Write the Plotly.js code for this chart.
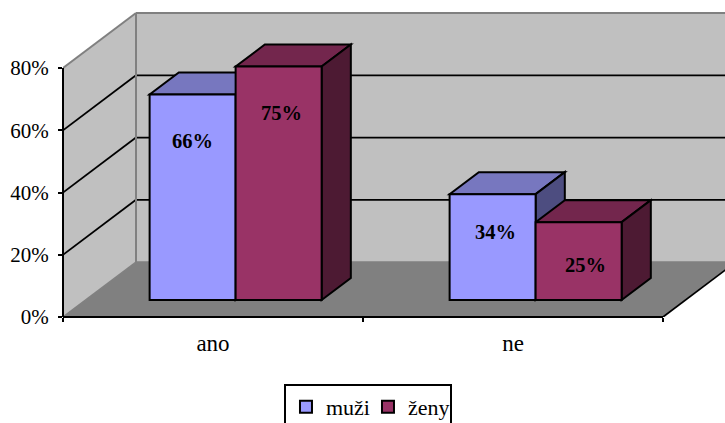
<!DOCTYPE html>
<html>
<head>
<meta charset="utf-8">
<script src="https://cdn.plot.ly/plotly-3.0.1.min.js"></script>
<style>html,body{margin:0;padding:0;background:#fff;overflow:hidden}</style>
</head>
<body>
<div id="chart" style="width:725px;height:423px"></div>
<script>
// Survey answers by gender, drawn as an oblique 3D column chart
const categories = ['ano', 'ne'];
const muzi = [66, 34];
const zeny = [75, 25];
const yTicks = [0, 20, 40, 60, 80];
const yTickLabels = ['0%', '20%', '40%', '60%', '80%'];

const FONT = '"Liberation Serif", "Times New Roman", serif';
const YMAX = 80;

// Oblique projection: one unit of depth moves this far along each axis
const DEPTH_X = 0.2433;
const DEPTH_Y = 17.67;
const project = (c, v, z) => [c + z * DEPTH_X, v + z * DEPTH_Y];

// Column placement inside the floor depth and inside a category slot
const Z_FRONT = 0.31;
const Z_BACK = 0.71;
const COL_W = 0.2867;

const poly = pts => 'M' + pts.map(p => p[0] + ',' + p[1]).join('L') + 'Z';
const fillShape = (pts, fill, line, width) => ({
  type: 'path', layer: 'below', xref: 'x', yref: 'y', path: poly(pts),
  fillcolor: fill, line: {color: line || fill, width: width === undefined ? 0 : width}
});
const lineShape = (a, b, color, width) => ({
  type: 'line', layer: 'below', xref: 'x', yref: 'y',
  x0: a[0], y0: a[1], x1: b[0], y1: b[1], line: {color: color, width: width}
});

const L = -0.5, R = 1.5;
const shapes = [];

// Side wall, back wall and floor
shapes.push(fillShape([project(L,0,0), project(L,0,1), project(L,YMAX,1), project(L,YMAX,0)], '#C0C0C0'));
shapes.push(fillShape([project(L,0,1), project(R,0,1), project(R,YMAX,1), project(L,YMAX,1)], '#C0C0C0'));
shapes.push(fillShape([project(L,0,0), project(R,0,0), project(R,0,1), project(L,0,1)], '#808080'));

// Gridlines running along both walls
yTicks.filter(v => v > 0 && v < YMAX).forEach(v => {
  shapes.push(lineShape(project(L,v,0), project(L,v,1), '#000', 1.75));
  shapes.push(lineShape(project(L,v,1), project(R,v,1), '#000', 1.75));
});

// Grey wall edges and the black right floor edge
const edge = '#808080';
shapes.push(lineShape(project(L,0,0), project(L,0,1), edge, 1.5));
shapes.push(lineShape(project(L,0,1), project(L,YMAX,1), edge, 2));
shapes.push(lineShape(project(L,YMAX,0), project(L,YMAX,1), edge, 2));
shapes.push(lineShape(project(L,YMAX,1), project(R,YMAX,1), edge, 2));
shapes.push(lineShape(project(L,0,1), project(R,0,1), edge, 1.5));
shapes.push(lineShape(project(R,0,0), project(R,0,1), '#000', 1.75));

// Top and side faces of a column; the front is the bar trace itself
function columnFaces(c, slot, v, topColor, sideColor) {
  const x0 = c + slot, x1 = c + slot + COL_W;
  shapes.push(fillShape([project(x0,v,Z_FRONT), project(x1,v,Z_FRONT), project(x1,v,Z_BACK), project(x0,v,Z_BACK)], topColor, '#000', 2));
  shapes.push(fillShape([project(x1,0,Z_FRONT), project(x1,0,Z_BACK), project(x1,v,Z_BACK), project(x1,v,Z_FRONT)], sideColor, '#000', 2));
}
categories.forEach((_, i) => columnFaces(i, -COL_W, muzi[i], '#7777BF', '#4D4D80'));
categories.forEach((_, i) => columnFaces(i, 0, zeny[i], '#73264D', '#4D1A33'));

// Axis lines stop at the chart's front plane
shapes.push({type:'line', layer:'above', xref:'x', yref:'paper', x0:L, x1:R, y0:0, y1:0, line:{color:'#000', width:2}});
shapes.push({type:'line', layer:'above', xref:'paper', yref:'y', x0:0, x1:0, y0:0, y1:YMAX, line:{color:'#000', width:2}});

const barTrace = (name, values, color, slot) => ({
  type: 'bar', name: name, x: categories, y: values,
  base: Z_FRONT * DEPTH_Y,
  width: COL_W,
  offset: slot + Z_FRONT * DEPTH_X,
  marker: {color: color, line: {color: '#000', width: 2}},
  hoverinfo: 'skip'
});

// Value labels sit on the front faces, below each column's top edge
const labelDrop = [[14.9, 14.9], [12.1, 13.7]];
const labelNudge = [[0, 0.01], [0.01, 0.022]];
const annotations = [];
categories.forEach((_, i) => {
  [[muzi, -COL_W], [zeny, 0]].forEach(([vals, slot], s) => {
    const p = project(i + slot + COL_W / 2, vals[i], Z_FRONT);
    annotations.push({
      xref: 'x', yref: 'y', x: p[0] + labelNudge[i][s], y: p[1] - labelDrop[i][s],
      text: '<b>' + vals[i] + '%</b>', showarrow: false,
      font: {family: FONT, size: 20.5, color: '#000'}
    });
  });
});

const layout = {
  width: 725, height: 423,
  margin: {l: 63, r: 0, t: 0, b: 106, pad: 0, autoexpand: false},
  paper_bgcolor: '#fff', plot_bgcolor: '#fff',
  barmode: 'overlay',
  font: {family: FONT, size: 21, color: '#000'},
  xaxis: {
    type: 'category', categoryorder: 'array', categoryarray: categories,
    range: [-0.5, 1.7067], autorange: false, tickson: 'boundaries',
    ticks: 'outside', ticklen: 4, tickwidth: 2, tickcolor: '#000',
    showgrid: false, zeroline: false, showline: false,
    ticklabelstandoff: 10, tickfont: {family: FONT, size: 23, color: '#000'}
  },
  yaxis: {
    range: [0, 101.85], autorange: false, tickmode: 'array',
    tickvals: yTicks, ticktext: yTickLabels,
    ticks: 'outside', ticklen: 4, tickwidth: 2, tickcolor: '#000',
    showgrid: false, zeroline: false, showline: false, ticklabelstandoff: 5,
    tickfont: {family: FONT, size: 21, color: '#000'}
  },
  legend: {
    orientation: 'h', x: 0.4607, xanchor: 'center', y: -0.2114, yanchor: 'top',
    bgcolor: '#fff', bordercolor: '#000', borderwidth: 2,
    entrywidthmode: 'pixels', entrywidth: 37,
    font: {family: FONT, size: 22, color: '#000'}
  },
  shapes: shapes,
  annotations: annotations
};

Plotly.newPlot('chart', [
  barTrace('muži', muzi, '#9999FF', -COL_W),
  barTrace('ženy', zeny, '#993366', 0)
], layout, {displayModeBar: false, staticPlot: true});
</script>
</body>
</html>
